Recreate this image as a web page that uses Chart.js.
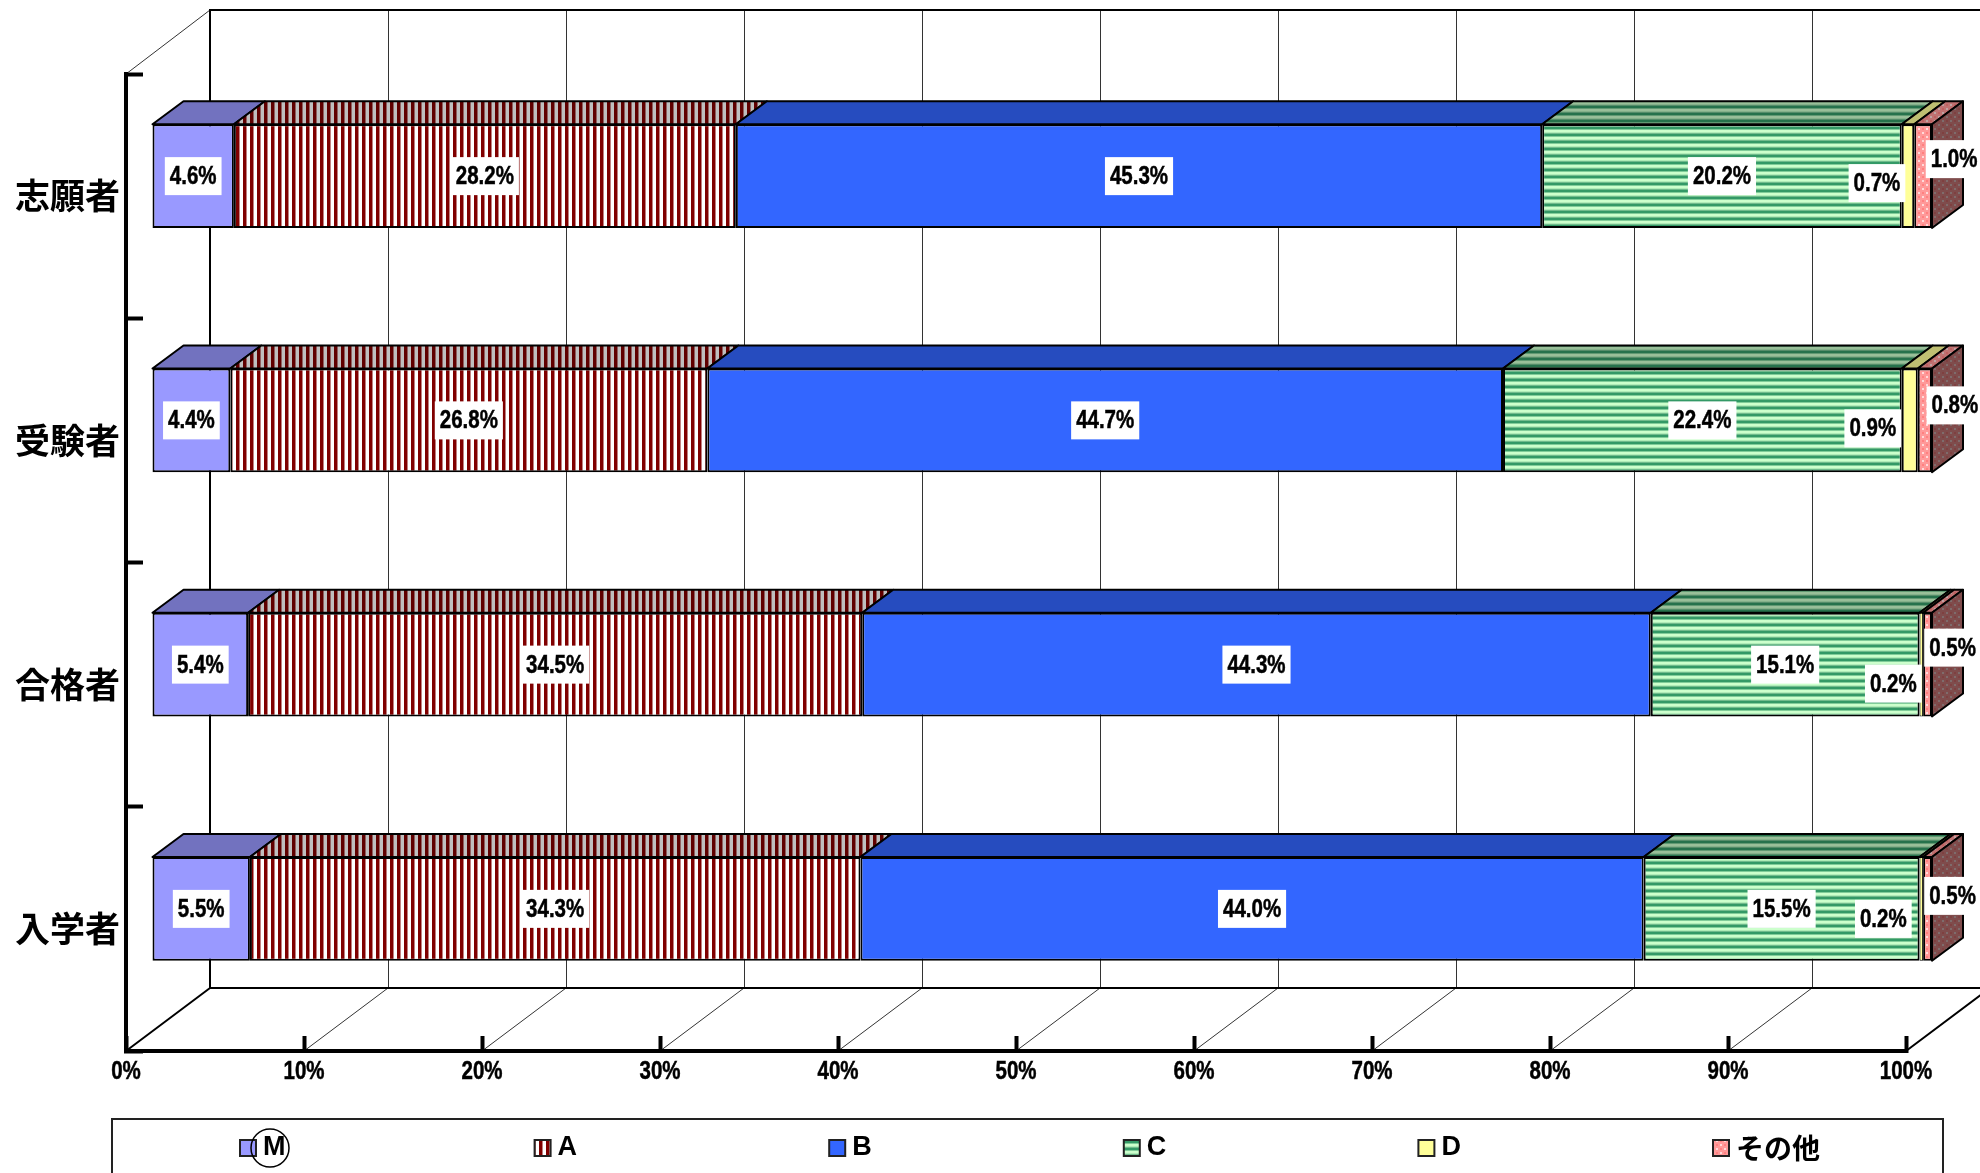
<!DOCTYPE html>
<html lang="ja">
<head>
    <meta charset="UTF-8">
    <title>志願者 受験者 合格者 入学者</title>
    <script src="https://cdn.jsdelivr.net/npm/chart.js@4"></script>
    <style>
        html, body { margin: 0; padding: 0; background: #fff; overflow: hidden; }
        canvas { display: block; }
    </style>
</head>
<body>
    <canvas id="chart" width="1980" height="1173"></canvas>

    <script>
        const categories = ['志願者', '受験者', '合格者', '入学者'];
        const seriesNames = ['M', 'A', 'B', 'C', 'D', 'その他'];
        const valuesM = [4.6, 4.4, 5.4, 5.5];
        const valuesA = [28.2, 26.8, 34.5, 34.3];
        const valuesB = [45.3, 44.7, 44.3, 44.0];
        const valuesC = [20.2, 22.4, 15.1, 15.5];
        const valuesD = [0.7, 0.9, 0.2, 0.2];
        const valuesOther = [1.0, 0.8, 0.5, 0.5];

        // hand placed labels for the thin segments, [dx, dy] per row
        const shiftD = [[-31, 7], [-37, 8], [-28, 19], [-38, 10]];
        const shiftOther = [[31, -17], [30, -15], [25, -17], [25, -13]];

        const WIDE = '"Liberation Sans", sans-serif';
        const CJK = '"Noto Sans CJK JP", sans-serif';
        const SQUEEZE = 0.82; // the reference numbers are condensed, no narrow font here

        // 3d offsets: bar front from the axis plane, bar depth, wall from the axis plane
        const FRONT = { x: 26, y: -20 };
        const DEPTH = { x: 31, y: -23 };
        const WALL = { x: 84, y: -63 };

        function makePattern(w, h, paint) {
            const c = document.createElement('canvas');
            c.width = w;
            c.height = h;
            paint(c.getContext('2d'));
            return c.getContext('2d').createPattern(c, 'repeat');
        }

        const stripesA = makePattern(7, 1, p => {
            const cols = ['#800000', '#800000', '#800000', '#c08080', '#fff', '#fff', '#fff'];
            cols.forEach((col, i) => {
                p.fillStyle = col;
                p.fillRect(i, 0, 1, 1);
            });
        });
        const stripesC = makePattern(1, 7, p => {
            const rows = ['#339966', '#339966', '#80cc99', '#ccffcc', '#ccffcc', '#b0ecb8', '#70bb8c'];
            rows.forEach((col, i) => {
                p.fillStyle = col;
                p.fillRect(0, i, 1, 1);
            });
        });
        const latticeOther = makePattern(8, 8, p => {
            p.fillStyle = '#ff9999';
            p.fillRect(0, 0, 8, 8);
            p.fillStyle = '#ffd9d9';
            p.fillRect(0, 0, 2, 2);
            p.fillRect(4, 4, 2, 2);
            p.fillStyle = '#ff8080';
            p.fillRect(4, 0, 2, 2);
            p.fillRect(0, 4, 2, 2);
        });

        const fills = ['#9999ff', stripesA, '#3366ff', stripesC, '#ffff99', latticeOther];

        function makeDataset(i, data) {
            return {
                label: seriesNames[i],
                data: data,
                backgroundColor: fills[i],
                borderColor: '#000',
                borderWidth: c => (c.raw < 0.5 ? 1 : 2),
                borderSkipped: false,
                barPercentage: 1,
                categoryPercentage: 0.425,
                clip: false
            };
        }

        function shadeFill(ctx, path, fill, shade) {
            path();
            ctx.fillStyle = fill;
            ctx.fill();
            ctx.fillStyle = 'rgba(0,0,0,' + shade + ')';
            ctx.fill();
            ctx.strokeStyle = '#000';
            ctx.lineWidth = 2;
            ctx.stroke();
        }

        function squeezedText(ctx, text, cx, cy) {
            ctx.save();
            ctx.translate(cx, cy);
            ctx.scale(SQUEEZE, 1);
            ctx.strokeStyle = '#000';
            ctx.lineWidth = 0.5;
            ctx.strokeText(text, 0, 0);
            ctx.fillText(text, 0, 0);
            ctx.restore();
        }

        const threeD = {
            id: 'threeD',
            beforeDraw(chart) {
                // back wall, floor and gridlines
                const { ctx, chartArea: a, scales } = chart;
                const x = scales.x;
                const wallTop = 10;
                const wallBottom = a.bottom + WALL.y;
                ctx.save();
                ctx.strokeStyle = '#333';
                ctx.lineWidth = 1;
                x.ticks.forEach(t => {
                    const px = x.getPixelForValue(t.value);
                    if (t.value > 0 && t.value < 100) {
                        ctx.beginPath();
                        ctx.moveTo(px + WALL.x + 0.5, wallTop);
                        ctx.lineTo(px + WALL.x + 0.5, wallBottom);
                        ctx.moveTo(px, a.bottom);
                        ctx.lineTo(px + WALL.x, wallBottom);
                        ctx.stroke();
                    }
                });
                ctx.beginPath();
                ctx.moveTo(a.left, a.top);
                ctx.lineTo(a.left + WALL.x, wallTop);
                ctx.stroke();

                ctx.strokeStyle = '#000';
                ctx.lineWidth = 2;
                ctx.beginPath();
                ctx.moveTo(1980, wallTop);
                ctx.lineTo(a.left + WALL.x, wallTop);
                ctx.lineTo(a.left + WALL.x, wallBottom);
                ctx.lineTo(1980, wallBottom);
                ctx.moveTo(a.left + WALL.x, wallBottom);
                ctx.lineTo(a.left, a.bottom);
                ctx.moveTo(a.right, a.bottom);
                ctx.lineTo(a.right + WALL.x, wallBottom);
                ctx.stroke();
                ctx.restore();
            },
            beforeDatasetsDraw(chart) {
                // top faces and the right end of each bar
                const ctx = chart.ctx;
                const last = chart.data.datasets.length - 1;
                ctx.save();
                ctx.translate(FRONT.x, FRONT.y);
                ctx.lineJoin = 'round';
                chart.data.datasets.forEach((ds, d) => {
                    chart.getDatasetMeta(d).data.forEach(el => {
                        const top = el.y - el.height / 2;
                        const bottom = el.y + el.height / 2;
                        shadeFill(ctx, () => {
                            ctx.beginPath();
                            ctx.moveTo(el.base, top);
                            ctx.lineTo(el.base + DEPTH.x, top + DEPTH.y);
                            ctx.lineTo(el.x + DEPTH.x, top + DEPTH.y);
                            ctx.lineTo(el.x, top);
                            ctx.closePath();
                        }, ds.backgroundColor, 0.25);
                        if (d === last) {
                            shadeFill(ctx, () => {
                                ctx.beginPath();
                                ctx.moveTo(el.x, top);
                                ctx.lineTo(el.x + DEPTH.x, top + DEPTH.y);
                                ctx.lineTo(el.x + DEPTH.x, bottom + DEPTH.y);
                                ctx.lineTo(el.x, bottom);
                                ctx.closePath();
                            }, ds.backgroundColor, 0.5);
                        }
                    });
                });
                ctx.restore();
            },
            beforeDatasetDraw(chart) {
                chart.ctx.save();
                chart.ctx.translate(FRONT.x, FRONT.y);
            },
            afterDatasetDraw(chart) {
                chart.ctx.restore();
            },
            afterDatasetsDraw(chart) {
                // value labels on white boxes
                const ctx = chart.ctx;
                ctx.save();
                ctx.font = 'bold 25px ' + WIDE;
                ctx.textAlign = 'center';
                ctx.textBaseline = 'middle';
                chart.data.datasets.forEach((ds, d) => {
                    chart.getDatasetMeta(d).data.forEach((el, i) => {
                        let shift = [0, 0];
                        if (d === 4) shift = shiftD[i];
                        if (d === 5) shift = shiftOther[i];
                        const cx = (el.x + el.base) / 2 + FRONT.x + shift[0];
                        const cy = el.y + FRONT.y + shift[1];
                        const text = ds.data[i].toFixed(1) + '%';
                        const w = ctx.measureText(text).width * SQUEEZE + 10;
                        ctx.fillStyle = '#fff';
                        ctx.fillRect(cx - w / 2, cy - 19, w, 38);
                        ctx.fillStyle = '#000';
                        squeezedText(ctx, text, cx, cy + 1);
                    });
                });
                ctx.restore();
            },
            afterDraw(chart) {
                const ctx = chart.ctx;
                const x = chart.scales.x;
                ctx.save();

                // x tick labels, condensed
                ctx.fillStyle = '#000';
                ctx.font = 'bold 25px ' + WIDE;
                ctx.textAlign = 'center';
                ctx.textBaseline = 'middle';
                x.ticks.forEach(t => {
                    squeezedText(ctx, t.label, x.getPixelForValue(t.value), 1072);
                });

                // legend box runs off the bottom of the page
                ctx.strokeStyle = '#222';
                ctx.lineWidth = 2;
                ctx.strokeRect(112, 1119, 1831, 80);
                ctx.textAlign = 'left';
                chart.data.datasets.forEach((ds, d) => {
                    const lx = 240 + d * 294.6;
                    ctx.fillStyle = ds.backgroundColor;
                    ctx.fillRect(lx, 1140, 16, 16);
                    ctx.strokeStyle = '#222';
                    ctx.strokeRect(lx, 1140, 16, 16);
                    ctx.fillStyle = '#000';
                    ctx.font = d === 5 ? 'bold 28px ' + CJK : 'bold 27px ' + WIDE;
                    ctx.fillText(ds.label, lx + 23, 1148);
                });
                ctx.strokeStyle = '#000';
                ctx.lineWidth = 1.5;
                ctx.beginPath();
                ctx.arc(270, 1148, 19, 0, Math.PI * 2);
                ctx.stroke();
                ctx.restore();
            }
        };

        new Chart(document.getElementById('chart'), {
            type: 'bar',
            data: {
                labels: categories,
                datasets: [valuesM, valuesA, valuesB, valuesC, valuesD, valuesOther].map((v, i) => makeDataset(i, v))
            },
            plugins: [threeD],
            options: {
                indexAxis: 'y',
                responsive: false,
                animation: false,
                devicePixelRatio: 1,
                layout: { padding: { top: 74, right: 74, left: 0, bottom: 0 } },
                plugins: {
                    legend: { display: false },
                    tooltip: { enabled: false }
                },
                scales: {
                    x: {
                        stacked: true,
                        min: 0,
                        max: 100,
                        afterFit(s) { s.height = 122; },
                        border: { display: true, width: 4, color: '#000' },
                        grid: { drawOnChartArea: false, drawTicks: true, tickLength: -15, tickWidth: 4, tickColor: '#000' },
                        ticks: {
                            display: false,
                            stepSize: 10,
                            callback: v => v + '%'
                        }
                    },
                    y: {
                        stacked: true,
                        afterFit(s) { s.width = 126; },
                        border: { display: true, width: 4, color: '#000' },
                        grid: { offset: true, drawOnChartArea: false, drawTicks: true, tickLength: -17, tickWidth: 4, tickColor: '#000' },
                        ticks: {
                            padding: 23,
                            color: '#000',
                            font: { family: CJK, size: 35, weight: 'bold' }
                        }
                    }
                }
            }
        });
    </script>
</body>
</html>
